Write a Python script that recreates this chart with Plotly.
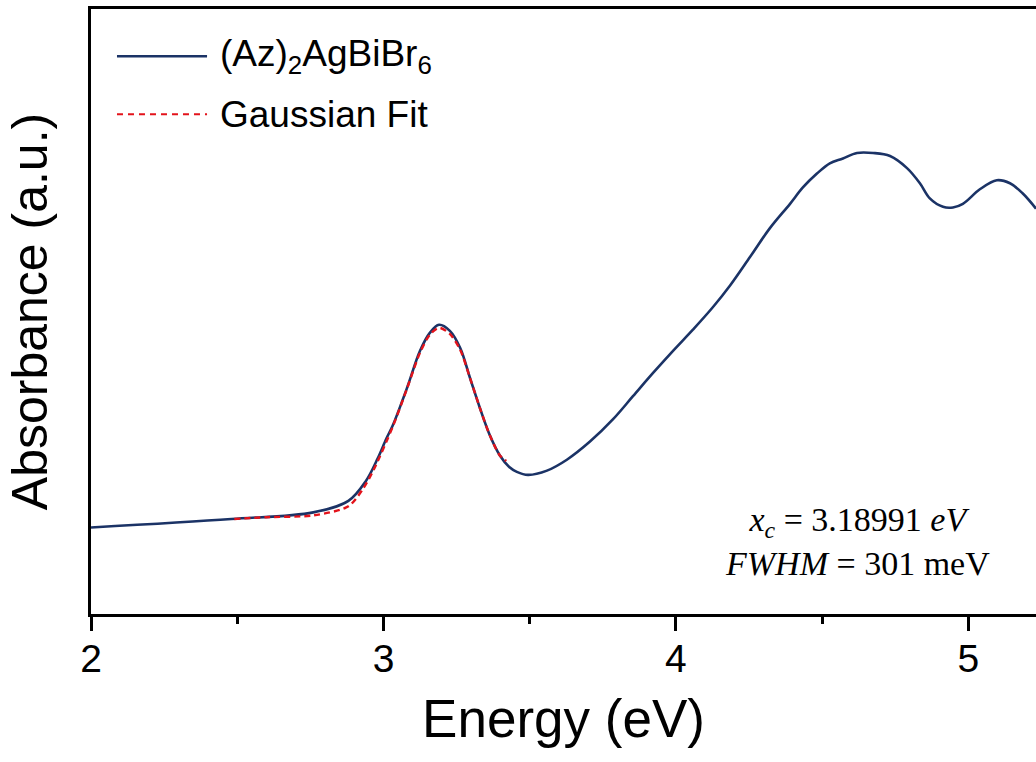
import plotly.graph_objects as go

# Measured spectrum (Energy in eV, absorbance in a.u.)
energy = [2.00, 2.48, 2.76, 2.88, 2.94, 2.98, 3.01, 3.032, 3.080, 3.125, 3.159, 3.190,
          3.227, 3.262, 3.296, 3.330, 3.364, 3.398, 3.43, 3.456, 3.494, 3.559, 3.627,
          3.706, 3.785, 3.853, 3.921, 3.990, 4.058, 4.126, 4.185, 4.253, 4.32, 4.390,
          4.434, 4.482, 4.526, 4.571, 4.619, 4.674, 4.732, 4.790, 4.834, 4.868, 4.913,
          4.947, 4.981, 5.039, 5.097, 5.142, 5.186, 5.231]
absorb = [0.143, 0.157, 0.168, 0.187, 0.220, 0.257, 0.290, 0.312, 0.373, 0.435, 0.465, 0.478,
          0.468, 0.440, 0.390, 0.340, 0.295, 0.262, 0.243, 0.235, 0.230, 0.237, 0.255,
          0.285, 0.322, 0.360, 0.398, 0.435, 0.470, 0.507, 0.543, 0.590, 0.637, 0.678,
          0.705, 0.728, 0.745, 0.753, 0.762, 0.762, 0.757, 0.737, 0.712, 0.687, 0.673,
          0.672, 0.678, 0.702, 0.717, 0.712, 0.695, 0.670]

# Gaussian fit curve
fit_energy = [2.49, 2.60, 2.76, 2.88, 2.93, 2.965, 3.032, 3.080, 3.125, 3.159, 3.190,
              3.227, 3.262, 3.296, 3.330, 3.364, 3.398, 3.42]
fit_absorb = [0.157, 0.160, 0.163, 0.178, 0.207, 0.237, 0.310, 0.372, 0.432, 0.462, 0.473,
              0.463, 0.437, 0.390, 0.340, 0.295, 0.262, 0.253]

x_ticks = [2, 3, 4, 5]
series_names = ["(Az)<sub>2</sub>AgBiBr<sub>6</sub>", "Gaussian Fit"]

NAVY = "#1b3366"
RED = "#e3131b"
FONT = "Liberation Sans, Arial, sans-serif"

fig = go.Figure()
fig.add_trace(go.Scatter(x=energy, y=absorb, mode="lines", name=series_names[0],
                         line=dict(color=NAVY, width=2.6, shape="spline", smoothing=1.0),
                         showlegend=False))
fig.add_trace(go.Scatter(x=fit_energy, y=fit_absorb, mode="lines", name=series_names[1],
                         line=dict(color=RED, width=2.4, dash="6px,4px", shape="spline", smoothing=0.8),
                         showlegend=False))

# Manual legend (long line samples as in the reference)
legend_y = [0.922, 0.826]
legend_styles = [dict(color=NAVY, width=2.4), dict(color=RED, width=2.2, dash="6px,5px")]
for name, yy, st in zip(series_names, legend_y, legend_styles):
    fig.add_shape(type="line", xref="paper", yref="paper", x0=0.0275, x1=0.1228, y0=yy, y1=yy,
                  line=st)
    fig.add_annotation(xref="paper", yref="paper", x=0.1344, y=yy, text=name, showarrow=False,
                       xanchor="left", yanchor="middle", font=dict(family=FONT, size=37, color="black"))

fig.add_annotation(xref="paper", yref="paper", x=0.8116, y=0.12,
                   text="<i>x</i><sub><i>c</i></sub> = 3.18991 <i>eV</i><br><i>FWHM</i> = 301 meV",
                   showarrow=False, xanchor="center", yanchor="middle", align="center",
                   font=dict(family="Liberation Serif, DejaVu Serif, serif", size=34, color="black"))

fig.update_layout(
    width=1036, height=762,
    margin=dict(l=91, r=0, t=9, b=148),
    paper_bgcolor="white", plot_bgcolor="white",
    font=dict(family=FONT, color="black"),
    showlegend=False,
)
fig.update_xaxes(
    range=[2, 5.231], tickvals=x_ticks, ticktext=[str(t) for t in x_ticks],
    showline=True, linecolor="black", linewidth=2.5, mirror=True,
    ticks="outside", ticklen=14, tickwidth=2.5, tickcolor="black",
    minor=dict(tickvals=[2.5, 3.5, 4.5], ticks="outside", ticklen=7, tickwidth=2.5, tickcolor="black"),
    showgrid=False, zeroline=False,
    tickfont=dict(family=FONT, size=39, color="black"),
    ticklabelstandoff=-6,
    title=dict(text="Energy (eV)", font=dict(family=FONT, size=53, color="black"), standoff=22),
    automargin=False,
)
fig.update_yaxes(
    range=[0, 1.0], showline=True, linecolor="black", linewidth=2.5, mirror=False,
    ticks="", showticklabels=False, showgrid=False, zeroline=False,
    title=dict(text="Absorbance (a.u.)", font=dict(family=FONT, size=50, color="black"), standoff=25),
    automargin=False,
)

fig.write_html("out.html", config={"displayModeBar": False},
               post_script="document.body.style.margin='0';document.body.style.overflow='hidden';")
